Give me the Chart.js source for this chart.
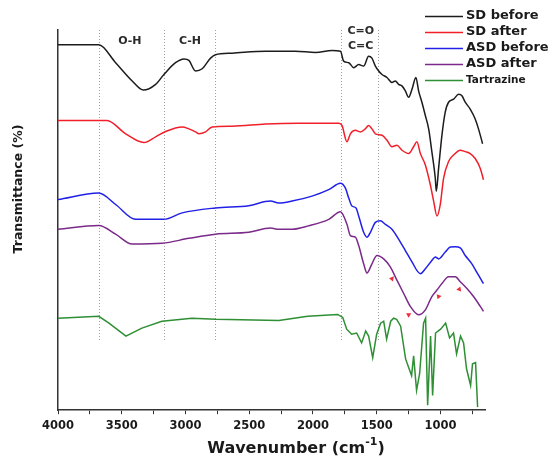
<!DOCTYPE html>
<html>
<head>
<meta charset="utf-8">
<script src="https://cdn.jsdelivr.net/npm/chart.js@4.4.0/dist/chart.umd.min.js"></script>
<style>
  html, body { margin: 0; padding: 0; background: #fff; }
  #ftir-chart { display: block; }
</style>
</head>
<body>
<canvas id="ftir-chart" width="552" height="462"></canvas>
<script>
// FTIR spectra: wavenumber (cm-1) and offset transmittance (%) per sample
const sdBeforeWn = [4000, 3680, 3548, 3418, 3331, 3234, 3169, 3078, 3012, 2973, 2921, 2869, 2803, 2764, 2634, 2372, 2137, 1980, 1850, 1784,
  1759, 1719, 1680, 1641, 1602, 1563, 1537, 1510, 1484, 1458, 1419, 1380, 1353, 1328, 1302, 1275, 1249, 1223, 1192, 1171,
  1145, 1118, 1092, 1067, 1040, 1032, 1014, 988, 962, 936, 896, 857, 831, 805, 766, 727, 701, 669];
const sdBeforeT = [96.1, 96.1, 91.4, 86.6, 84.2, 85.7, 88.3, 91.4, 92.4, 92.0, 89.2, 89.8, 92.6, 93.5, 93.9, 94.4, 94.4, 94.1, 94.6, 94.4,
  91.8, 91.4, 90.1, 90.9, 90.5, 93.1, 92.6, 90.5, 89.2, 88.3, 87.5, 86.2, 86.6, 85.7, 85.3, 84.0, 82.3, 84.4, 87.5, 84.0,
  81.0, 77.5, 74.0, 68.0, 61.0, 57.6, 63.6, 72.3, 78.4, 81.0, 81.8, 83.1, 82.7, 81.0, 79.2, 76.6, 74.0, 70.1];

const sdAfterWn = [4000, 3680, 3616, 3469, 3326, 3234, 3156, 3026, 2973, 2921, 2895, 2842, 2791, 2634, 2372, 2111, 1797, 1772, 1733, 1706,
  1667, 1628, 1589, 1563, 1537, 1510, 1458, 1419, 1380, 1341, 1302, 1249, 1210, 1184, 1157, 1118, 1079, 1053, 1027, 1001,
  975, 936, 897, 844, 805, 766, 727, 687, 662];
const sdAfterT = [76.2, 76.2, 76.2, 72.7, 70.4, 71.9, 73.3, 74.5, 74.0, 73.2, 72.7, 73.2, 74.5, 74.7, 75.3, 75.5, 75.5, 74.9, 70.6, 72.7,
  73.6, 73.2, 74.0, 74.9, 74.0, 72.7, 72.3, 71.0, 69.3, 69.7, 68.4, 67.5, 69.3, 70.6, 67.5, 64.5, 59.3, 55.0, 51.1, 54.1,
  61.0, 65.4, 67.1, 68.4, 68.0, 67.5, 66.2, 63.6, 60.6];

const asdBeforeWn = [4000, 3680, 3548, 3391, 3169, 3026, 2764, 2503, 2333, 2268, 2164, 2007, 1876, 1784, 1745, 1719, 1694, 1662, 1641, 1602,
  1576, 1549, 1510, 1471, 1432, 1380, 1328, 1275, 1223, 1157, 1118, 1067, 1040, 1014, 962, 922, 883, 844, 805, 753, 701, 662];
const asdBeforeT = [55.4, 57.1, 54.1, 50.2, 50.2, 51.9, 53.2, 53.8, 55.0, 54.5, 55.0, 56.3, 58.0, 59.7, 58.4, 55.8, 53.7, 53.2, 51.1, 46.8,
  45.5, 46.8, 49.4, 49.8, 48.9, 47.6, 45.0, 42.0, 39.0, 35.9, 37.2, 39.4, 40.3, 39.8, 41.6, 42.9, 43.0, 42.7, 40.7, 38.5, 35.5, 33.3];

const asdAfterWn = [4000, 3680, 3548, 3418, 3183, 2973, 2764, 2503, 2333, 2268, 2164, 2033, 1876, 1784, 1733, 1706, 1667, 1641, 1602, 1576,
  1537, 1498, 1445, 1393, 1341, 1288, 1236, 1171, 1118, 1067, 1027, 988, 936, 883, 844, 792, 740, 687, 662];
const asdAfterT = [47.6, 48.6, 46.3, 43.7, 43.9, 45.2, 46.3, 46.8, 47.9, 47.6, 47.6, 48.5, 50.2, 52.2, 48.9, 45.9, 45.5, 43.3, 38.5, 36.1,
  38.5, 40.7, 39.8, 37.7, 34.2, 30.7, 27.3, 25.1, 26.4, 29.9, 31.6, 33.3, 35.1, 35.1, 33.8, 32.0, 29.9, 27.3, 26.0];

const tartrazineWn = [4000, 3680, 3600, 3467, 3342, 3185, 2950, 2762, 2268, 2041, 1806, 1766, 1735, 1696, 1657, 1618, 1586, 1563, 1531, 1500,
  1469, 1445, 1422, 1390, 1367, 1343, 1312, 1273, 1249, 1226, 1210, 1187, 1163, 1132, 1116, 1100, 1077, 1061, 1038, 998,
  959, 928, 897, 873, 842, 818, 795, 763, 748, 724, 708];
const tartrazineT = [24.2, 24.7, 22.9, 19.5, 21.6, 23.4, 24.2, 23.9, 23.6, 24.7, 25.2, 24.4, 21.3, 20.0, 20.3, 17.7, 20.8, 19.5, 13.8, 20.0,
  22.9, 23.4, 18.7, 23.4, 24.2, 23.9, 22.1, 13.5, 11.2, 9.1, 14.3, 5.2, 9.6, 22.9, 24.2, 1.3, 19.5, 3.9, 20.3, 21.3,
  22.9, 19.0, 20.3, 14.8, 19.5, 17.7, 10.9, 6.5, 12.2, 12.5, 0.8];

// peaks marked with small arrows on the ASD after trace
const arrowWn = [1380, 1249, 1014, 852];
const arrowT = [34.6, 25.1, 29.9, 31.8];

// functional group band positions (dotted guide lines)
const bandLines = [3680, 3170, 2765, 1780, 1490];

const seriesLabels = ['SD before', 'SD after', 'ASD before', 'ASD after', 'Tartrazine'];
const seriesColors = ['#1c1c1c', '#f0202a', '#2020e6', '#7a2a88', '#2e8f34'];

const fontFamily = '"DejaVu Sans", sans-serif';

function toPoints(wn, t) {
  return wn.map((w, i) => ({x: w, y: t[i]}));
}

const spectra = [
  toPoints(sdBeforeWn, sdBeforeT),
  toPoints(sdAfterWn, sdAfterT),
  toPoints(asdBeforeWn, asdBeforeT),
  toPoints(asdAfterWn, asdAfterT),
  toPoints(tartrazineWn, tartrazineT),
];

const datasets = spectra.map((points, i) => ({
  label: seriesLabels[i],
  data: points,
  borderColor: seriesColors[i],
  borderWidth: 1.5,
  pointRadius: 0,
  // the tartrazine trace keeps its sharp bands
  cubicInterpolationMode: i === 4 ? 'default' : 'monotone',
  tension: i === 4 ? 0 : 0.4,
}));

datasets.push({
  type: 'scatter',
  label: 'arrows',
  data: toPoints(arrowWn, arrowT),
  pointStyle: 'triangle',
  pointRadius: 3,
  rotation: [160, 60, 320, 20],
  backgroundColor: '#e8303a',
  borderColor: '#e8303a',
  borderWidth: 0,
  showLine: false,
});

// guide lines, group labels, legend and axis titles
const ftirDecor = {
  id: 'ftirDecor',
  beforeDatasetsDraw(chart, args, opts) {
    const {ctx, scales: {x, y}} = chart;
    ctx.save();
    ctx.strokeStyle = '#a0a0a0';
    ctx.lineWidth = 1;
    ctx.setLineDash([1, 2]);
    for (const wn of bandLines) {
      const px = Math.round(x.getPixelForValue(wn)) + 0.5;
      ctx.beginPath();
      ctx.moveTo(px, y.getPixelForValue(y.max));
      ctx.lineTo(px, y.getPixelForValue(opts.guideBottom));
      ctx.stroke();
    }
    ctx.restore();
  },
  afterDraw(chart, args, opts) {
    const {ctx, scales: {x, y}} = chart;
    ctx.save();
    ctx.fillStyle = '#2a2a2a';
    ctx.textBaseline = 'middle';

    // group labels above the bands
    ctx.font = `bold 11px ${fontFamily}`;
    ctx.textAlign = 'center';
    for (const note of opts.notes) {
      ctx.fillText(note.text, x.getPixelForValue(note.wn), y.getPixelForValue(note.t));
    }

    // legend, top right
    const lg = opts.legend;
    ctx.textAlign = 'left';
    seriesLabels.forEach((label, i) => {
      const rowY = lg.top + i * lg.rowGap;
      ctx.strokeStyle = seriesColors[i];
      ctx.lineWidth = 1.5;
      ctx.beginPath();
      ctx.moveTo(lg.lineStart, rowY + 0.5);
      ctx.lineTo(lg.lineEnd, rowY + 0.5);
      ctx.stroke();
      ctx.fillStyle = '#1a1a1a';
      ctx.font = i === 4 ? `bold 10.5px ${fontFamily}` : `bold 13px ${fontFamily}`;
      ctx.fillText(label, lg.textX, rowY);
    });

    // x axis title with superscript
    const xt = opts.xTitle;
    const mainFont = `bold 16px ${fontFamily}`;
    const supFont = `bold 11px ${fontFamily}`;
    ctx.font = mainFont;
    const w1 = ctx.measureText('Wavenumber (cm').width;
    const w3 = ctx.measureText(')').width;
    ctx.font = supFont;
    const w2 = ctx.measureText('-1').width;
    let cx = xt.x - (w1 + w2 + w3) / 2;
    ctx.fillStyle = '#1a1a1a';
    ctx.font = mainFont;
    ctx.fillText('Wavenumber (cm', cx, xt.y);
    cx += w1;
    ctx.font = supFont;
    ctx.fillText('-1', cx, xt.y - 7);
    cx += w2;
    ctx.font = mainFont;
    ctx.fillText(')', cx, xt.y);

    // y axis title
    const yt = opts.yTitle;
    ctx.translate(yt.x, yt.y);
    ctx.rotate(-Math.PI / 2);
    ctx.textAlign = 'center';
    ctx.font = `bold 12.5px ${fontFamily}`;
    ctx.fillText('Transmittance (%)', 0, 0);
    ctx.restore();
  },
};

new Chart(document.getElementById('ftir-chart'), {
  type: 'line',
  data: {datasets},
  options: {
    responsive: false,
    animation: false,
    devicePixelRatio: 1,
    layout: {
      padding: {left: 58, right: 67, top: 30, bottom: 24},
    },
    scales: {
      x: {
        type: 'linear',
        reverse: true,
        min: 650,
        max: 4000,
        border: {display: true, color: '#333', width: 1.5},
        grid: {display: true, drawOnChartArea: false, drawTicks: true, tickLength: 4, color: '#333'},
        ticks: {
          stepSize: 250,
          includeBounds: false,
          autoSkip: false,
          maxRotation: 0,
          padding: 5,
          color: '#1a1a1a',
          font: {family: fontFamily, size: 11.5, weight: 'bold'},
          callback: (value) => (value % 500 === 0 ? String(value) : ''),
        },
      },
      y: {
        min: 0,
        max: 100,
        border: {display: true, color: '#333', width: 1.5},
        grid: {display: false, drawTicks: false},
        ticks: {display: false},
      },
    },
    plugins: {
      legend: {display: false},
      tooltip: {enabled: false},
      ftirDecor: {
        guideBottom: 18,
        notes: [
          {text: 'O-H', wn: 3436, t: 97.1},
          {text: 'C-H', wn: 2965, t: 97.1},
          {text: 'C=O', wn: 1625, t: 99.7},
          {text: 'C=C', wn: 1625, t: 95.8},
        ],
        legend: {top: 16, rowGap: 16, lineStart: 425, lineEnd: 463, textX: 466},
        xTitle: {x: 296, y: 449},
        yTitle: {x: 19, y: 189},
      },
    },
  },
  plugins: [ftirDecor],
});
</script>
</body>
</html>
